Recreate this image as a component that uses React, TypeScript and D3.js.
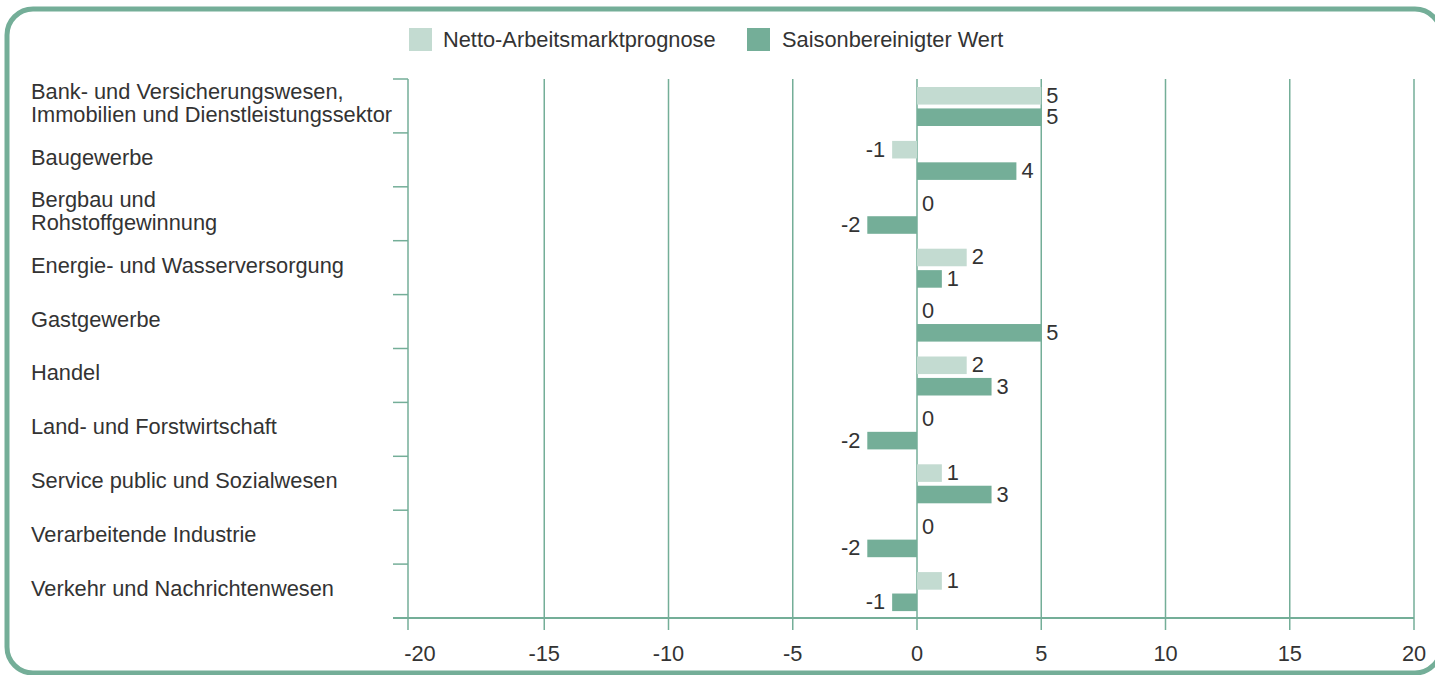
import React from 'react';
import * as d3 from 'd3';

const categories = [
  ['Bank- und Versicherungswesen,', 'Immobilien und Dienstleistungssektor'],
  ['Baugewerbe'],
  ['Bergbau und', 'Rohstoffgewinnung'],
  ['Energie- und Wasserversorgung'],
  ['Gastgewerbe'],
  ['Handel'],
  ['Land- und Forstwirtschaft'],
  ['Service public und Sozialwesen'],
  ['Verarbeitende Industrie'],
  ['Verkehr und Nachrichtenwesen'],
];
const seriesNames = ['Netto-Arbeitsmarktprognose', 'Saisonbereinigter Wert'];
const netto = [5, -1, 0, 2, 0, 2, 0, 1, 0, 1];
const saison = [5, 4, -2, 1, 5, 3, -2, 3, -2, -1];
const xTicks = [-20, -15, -10, -5, 0, 5, 10, 15, 20];

const W = 1435;
const H = 675;
const light = '#c3dbd1';
const dark = '#74ae98';
const textColor = '#333';
const font = '"Liberation Sans", Arial, Helvetica, sans-serif';
const fs = 21.8;

// the -20 axis line sits a little left of where the scale puts -20
const axisX = 408;
const x = d3.scaleLinear().domain([-20, 20]).range([420, 1414]);
const keys = categories.map((c) => c.join(' '));
const y0 = d3.scaleBand().domain(keys).range([79, 618]);
const y1 = d3.scaleBand().domain(seriesNames).range([8, 47]).paddingInner(0.18);

export default function App() {
  const series = [netto, saison];
  const colors = [light, dark];
  const bottom = 618;
  const gx = (t) => (t === -20 ? axisX : x(t));

  return (
    <svg width={W} height={H} style={{ position: 'absolute', left: 0, top: 0, display: 'block' }} fontFamily={font}>
      <rect x={7} y={9} width={1434} height={664} rx={26} fill="#fff" stroke={dark} strokeWidth={5} />

      {/* legend */}
      <g fontSize={fs} fill={textColor}>
        <rect x={409} y={28} width={23} height={23} fill={light} />
        <text x={443} y={47}>{seriesNames[0]}</text>
        <rect x={747} y={28} width={23} height={23} fill={dark} />
        <text x={782} y={47}>{seriesNames[1]}</text>
      </g>

      {/* vertical grid */}
      {xTicks.map((t) => (
        <line key={t} x1={gx(t)} x2={gx(t)} y1={79} y2={630} stroke={dark} strokeWidth={1.5} />
      ))}

      {/* left axis ticks */}
      {keys.map((k) => (
        <line key={k} x1={393} x2={axisX} y1={y0(k)} y2={y0(k)} stroke={dark} strokeWidth={1.5} />
      ))}
      <line x1={393} x2={x(20)} y1={bottom} y2={bottom} stroke={dark} strokeWidth={2} />

      {/* x tick labels */}
      {xTicks.map((t) => (
        <text key={t} x={x(t)} y={661} textAnchor="middle" fontSize={fs} fill={textColor}>{t}</text>
      ))}

      {/* category labels */}
      {categories.map((lines, i) => {
        const cy = y0(keys[i]) + y0.bandwidth() / 2;
        const top = cy - ((lines.length - 1) * 23) / 2;
        return (
          <text key={i} x={31} fontSize={fs} fill={textColor}>
            {lines.map((l, j) => (
              <tspan key={j} x={31} y={top + j * 23 + 5}>{l}</tspan>
            ))}
          </text>
        );
      })}

      {/* bars */}
      {series.map((vals, s) => (
        <g key={s}>
          {vals.map((v, i) => {
            const by = y0(keys[i]) + y1(seriesNames[s]);
            const bh = y1.bandwidth();
            const x0 = x(0);
            const xv = x(v);
            const neg = v < 0;
            return (
              <g key={i}>
                <rect x={Math.min(x0, xv)} y={by} width={Math.abs(xv - x0)} height={bh} fill={colors[s]} />
                <text
                  x={neg ? xv - 7 : xv + 5}
                  y={by + bh / 2 + 7}
                  textAnchor={neg ? 'end' : 'start'}
                  fontSize={fs}
                  fill={textColor}
                >
                  {v}
                </text>
              </g>
            );
          })}
        </g>
      ))}
    </svg>
  );
}
